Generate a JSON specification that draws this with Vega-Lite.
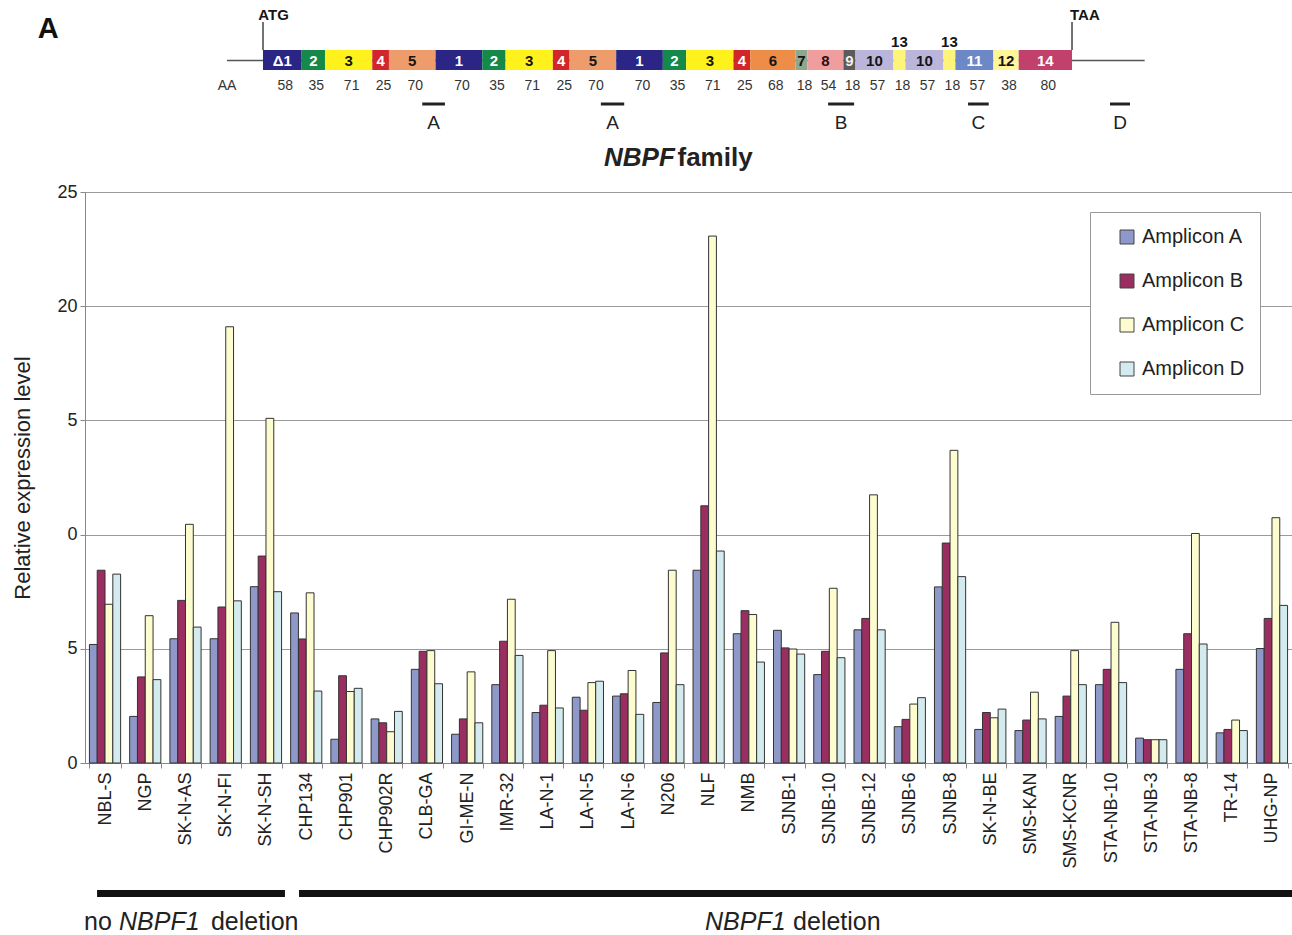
{
  "$schema": "https://vega.github.io/schema/vega-lite/v6.json",
  "padding": {"left": 11, "top": 5, "right": 2, "bottom": 0},
  "background": "white",
  "spacing": 10,
  "config": {"font": "Liberation Sans", "view": {"stroke": null}},
  "resolve": {"scale": {"x": "independent", "y": "independent", "color": "independent"}, "legend": {"color": "independent"}},
  "vconcat": [
    {
      "width": 1207,
      "height": 167,
      "resolve": {"scale": {"color": "independent"}},
      "layer": [
        {
          "data": {"values": [{"x": -54, "x2": 1323}]},
          "mark": {"type": "rule", "color": "#555", "strokeWidth": 1.5},
          "encoding": {
            "x": {"field": "x", "type": "quantitative", "scale": {"domain": [-267.1, 1544.1], "nice": false, "zero": false}, "axis": null},
            "x2": {"field": "x2"},
            "y": {"datum": 55.5, "type": "quantitative", "scale": {"domain": [0, 167], "reverse": true, "nice": false, "zero": false}, "axis": null}
          }
        },
        {
          "data": {"values": [{"x": 0}, {"x": 1214}]},
          "mark": {"type": "rule", "color": "#444", "strokeWidth": 1.5},
          "encoding": {
            "x": {"field": "x", "type": "quantitative", "scale": {"domain": [-267.1, 1544.1], "nice": false, "zero": false}, "axis": null},
            "y": {"datum": 17, "type": "quantitative", "scale": {"domain": [0, 167], "reverse": true, "nice": false, "zero": false}, "axis": null},
            "y2": {"datum": 45}
          }
        },
        {
          "data": {"name": "exons"},
          "mark": {"type": "rect"},
          "encoding": {
            "x": {"field": "s", "type": "quantitative", "scale": {"domain": [-267.1, 1544.1], "nice": false, "zero": false}, "axis": null},
            "x2": {"field": "e"},
            "y": {"datum": 45, "type": "quantitative", "scale": {"domain": [0, 167], "reverse": true, "nice": false, "zero": false}, "axis": null},
            "y2": {"datum": 65},
            "color": {"field": "dom", "type": "nominal", "legend": null,
              "scale": {"domain": ["1","2","3","4","5","6","7","8","9","10","11","12","13","14"],
                        "range": ["#2b2585","#14894a","#fff21c","#d2262b","#ef9c6c","#ee8d48","#8fa88d","#ef9d9d","#5b5b5b","#bbb5db","#6d88c7","#fff59b","#fff47a","#c2416c"]}}
          }
        },
        {
          "data": {"name": "exons"},
          "transform": [{"filter": "datum.dom != '13'"}],
          "mark": {"type": "text", "fontWeight": "bold", "fontSize": 15, "baseline": "middle"},
          "encoding": {
            "x": {"field": "mid", "type": "quantitative", "scale": {"domain": [-267.1, 1544.1], "nice": false, "zero": false}, "axis": null},
            "y": {"datum": 55.5, "type": "quantitative", "scale": {"domain": [0, 167], "reverse": true, "nice": false, "zero": false}, "axis": null},
            "text": {"field": "lab"},
            "color": {"field": "dom", "type": "nominal", "legend": null,
              "scale": {"domain": ["1","2","3","4","5","6","7","8","9","10","11","12","13","14"],
                        "range": ["#ffffff","#ffffff","#151515","#ffffff","#151515","#151515","#151515","#2a1010","#eeeeee","#151515","#ffffff","#151515","#151515","#ffffff"]}}
          }
        },
        {
          "data": {"name": "exons"},
          "transform": [{"filter": "datum.dom == '13'"}],
          "mark": {"type": "text", "fontWeight": "bold", "fontSize": 15, "baseline": "middle", "color": "#151515"},
          "encoding": {
            "x": {"field": "mid", "type": "quantitative", "scale": {"domain": [-267.1, 1544.1], "nice": false, "zero": false}, "axis": null},
            "y": {"datum": 37, "type": "quantitative", "scale": {"domain": [0, 167], "reverse": true, "nice": false, "zero": false}, "axis": null},
            "text": {"field": "lab"}
          }
        },
        {
          "data": {"name": "exons"},
          "mark": {"type": "text", "fontSize": 14, "baseline": "middle", "color": "#333", "dx": 3},
          "encoding": {
            "x": {"field": "mid", "type": "quantitative", "scale": {"domain": [-267.1, 1544.1], "nice": false, "zero": false}, "axis": null},
            "y": {"datum": 81, "type": "quantitative", "scale": {"domain": [0, 167], "reverse": true, "nice": false, "zero": false}, "axis": null},
            "text": {"field": "len"}
          }
        },
        {
          "data": {"name": "amplicons"},
          "mark": {"type": "rect", "color": "#222"},
          "encoding": {
            "x": {"field": "s", "type": "quantitative", "scale": {"domain": [-267.1, 1544.1], "nice": false, "zero": false}, "axis": null},
            "x2": {"field": "e"},
            "y": {"datum": 97.5, "type": "quantitative", "scale": {"domain": [0, 167], "reverse": true, "nice": false, "zero": false}, "axis": null},
            "y2": {"datum": 100.5}
          }
        },
        {
          "data": {"name": "amplicons"},
          "mark": {"type": "text", "fontSize": 19, "baseline": "middle", "color": "#222"},
          "encoding": {
            "x": {"field": "mid", "type": "quantitative", "scale": {"domain": [-267.1, 1544.1], "nice": false, "zero": false}, "axis": null},
            "y": {"datum": 118, "type": "quantitative", "scale": {"domain": [0, 167], "reverse": true, "nice": false, "zero": false}, "axis": null},
            "text": {"field": "lab"}
          }
        },
        {
          "data": {"values": [{"x": -7, "t": "ATG"}, {"x": 1211, "t": "TAA"}]},
          "mark": {"type": "text", "fontSize": 15, "fontWeight": "bold", "align": "left", "baseline": "middle", "color": "#151515"},
          "encoding": {
            "x": {"field": "x", "type": "quantitative", "scale": {"domain": [-267.1, 1544.1], "nice": false, "zero": false}, "axis": null},
            "y": {"datum": 10, "type": "quantitative", "scale": {"domain": [0, 167], "reverse": true, "nice": false, "zero": false}, "axis": null},
            "text": {"field": "t"}
          }
        },
        {
          "data": {"values": [{"x": -338, "t": "A"}]},
          "mark": {"type": "text", "fontSize": 29, "fontWeight": "bold", "align": "left", "baseline": "middle", "color": "#111"},
          "encoding": {
            "x": {"field": "x", "type": "quantitative", "scale": {"domain": [-267.1, 1544.1], "nice": false, "zero": false}, "axis": null},
            "y": {"datum": 24, "type": "quantitative", "scale": {"domain": [0, 167], "reverse": true, "nice": false, "zero": false}, "axis": null},
            "text": {"field": "t"}
          }
        },
        {
          "data": {"values": [{"x": -54, "t": "AA"}]},
          "mark": {"type": "text", "fontSize": 14, "baseline": "middle", "color": "#333"},
          "encoding": {
            "x": {"field": "x", "type": "quantitative", "scale": {"domain": [-267.1, 1544.1], "nice": false, "zero": false}, "axis": null},
            "y": {"datum": 81, "type": "quantitative", "scale": {"domain": [0, 167], "reverse": true, "nice": false, "zero": false}, "axis": null},
            "text": {"field": "t"}
          }
        },
        {
          "data": {"values": [{"x": 618, "t": "NBPF"}]},
          "mark": {"type": "text", "fontSize": 26, "fontWeight": "bold", "fontStyle": "italic", "align": "right", "baseline": "middle", "color": "#222"},
          "encoding": {
            "x": {"field": "x", "type": "quantitative", "scale": {"domain": [-267.1, 1544.1], "nice": false, "zero": false}, "axis": null},
            "y": {"datum": 153, "type": "quantitative", "scale": {"domain": [0, 167], "reverse": true, "nice": false, "zero": false}, "axis": null},
            "text": {"field": "t"}
          }
        },
        {
          "data": {"values": [{"x": 622, "t": "family"}]},
          "mark": {"type": "text", "fontSize": 26, "fontWeight": "bold", "align": "left", "baseline": "middle", "color": "#222"},
          "encoding": {
            "x": {"field": "x", "type": "quantitative", "scale": {"domain": [-267.1, 1544.1], "nice": false, "zero": false}, "axis": null},
            "y": {"datum": 153, "type": "quantitative", "scale": {"domain": [0, 167], "reverse": true, "nice": false, "zero": false}, "axis": null},
            "text": {"field": "t"}
          }
        }
      ]
    },
    {
      "width": 1207,
      "height": 571,
      "view": {"stroke": "#999", "strokeWidth": 1},
      "data": {"name": "expr"},
      "mark": {"type": "bar", "stroke": "#333", "strokeWidth": 1},
      "encoding": {
        "x": {"field": "c", "type": "nominal", "sort": null,
          "scale": {"paddingInner": 0.225, "paddingOuter": 0.11},
          "axis": {"title": null, "labelAngle": -90, "labelFontSize": 18, "labelColor": "#222", "labelPadding": 4,
                   "tickBand": "extent", "tickSize": 5, "tickColor": "#888", "domainColor": "#888"}},
        "xOffset": {"field": "a", "type": "nominal", "sort": null},
        "y": {"field": "v", "type": "quantitative",
          "scale": {"domain": [0, 25], "nice": false},
          "axis": {"title": "Relative expression level", "titleFontSize": 22, "titleFontWeight": "normal", "titleColor": "#222",
                   "titlePadding": 22, "values": [0, 5, 10, 15, 20, 25],
                   "labelExpr": "datum.value == 10 ? '0' : datum.value == 15 ? '5' : datum.label",
                   "labelFontSize": 18, "labelColor": "#222", "labelPadding": 3, "tickSize": 5, "tickColor": "#888",
                   "domainColor": "#888", "grid": true, "gridColor": "#9a9a9a", "gridWidth": 1}},
        "color": {"field": "a", "type": "nominal", "sort": null,
          "scale": {"domain": ["Amplicon A", "Amplicon B", "Amplicon C", "Amplicon D"], "range": ["#8e98c9", "#9b2e61", "#fdfccf", "#d3ebee"]},
          "legend": {"title": null, "orient": "none", "legendX": 1005, "legendY": 20, "fillColor": "white", "strokeColor": "#999",
                     "padding": 15, "rowPadding": 24, "symbolType": "square", "symbolSize": 196, "symbolStrokeColor": "#444",
                     "symbolStrokeWidth": 1, "symbolOffset": 12, "labelFontSize": 20, "labelColor": "#222", "labelOffset": 5}}
      }
    },
    {
      "width": 1207,
      "height": 50,
      "layer": [
        {
          "data": {"values": [{"g": "no NBPF1 deletion", "s": 0.3, "e": 4.97}, {"g": "NBPF1 deletion", "s": 5.32, "e": 30}]},
          "mark": {"type": "rect", "color": "#111"},
          "encoding": {
            "x": {"field": "s", "type": "quantitative", "scale": {"domain": [0, 30], "nice": false, "zero": false}, "axis": null},
            "x2": {"field": "e"},
            "y": {"datum": 11, "type": "quantitative", "scale": {"domain": [0, 50], "reverse": true, "nice": false, "zero": false}, "axis": null},
            "y2": {"datum": 18}
          }
        },
        {
          "data": {"values": [{"x": -0.025, "t": "no"}, {"x": 3.13, "t": "deletion"}, {"x": 17.6, "t": "deletion"}]},
          "mark": {"type": "text", "fontSize": 25, "align": "left", "baseline": "middle", "color": "#222"},
          "encoding": {
            "x": {"field": "x", "type": "quantitative", "scale": {"domain": [0, 30], "nice": false, "zero": false}, "axis": null},
            "y": {"datum": 43, "type": "quantitative", "scale": {"domain": [0, 50], "reverse": true, "nice": false, "zero": false}, "axis": null},
            "text": {"field": "t"}
          }
        },
        {
          "data": {"values": [{"x": 0.845, "t": "NBPF1"}, {"x": 15.41, "t": "NBPF1"}]},
          "mark": {"type": "text", "fontSize": 25, "fontStyle": "italic", "align": "left", "baseline": "middle", "color": "#222"},
          "encoding": {
            "x": {"field": "x", "type": "quantitative", "scale": {"domain": [0, 30], "nice": false, "zero": false}, "axis": null},
            "y": {"datum": 43, "type": "quantitative", "scale": {"domain": [0, 50], "reverse": true, "nice": false, "zero": false}, "axis": null},
            "text": {"field": "t"}
          }
        }
      ]
    }
  ],
  "datasets": {
    "exons": [
      {"lab": "Δ1", "dom": "1", "s": 0, "e": 58, "mid": 29, "len": "58"},
      {"lab": "2", "dom": "2", "s": 58, "e": 93, "mid": 75.5, "len": "35"},
      {"lab": "3", "dom": "3", "s": 93, "e": 164, "mid": 128.5, "len": "71"},
      {"lab": "4", "dom": "4", "s": 164, "e": 189, "mid": 176.5, "len": "25"},
      {"lab": "5", "dom": "5", "s": 189, "e": 259, "mid": 224, "len": "70"},
      {"lab": "1", "dom": "1", "s": 259, "e": 329, "mid": 294, "len": "70"},
      {"lab": "2", "dom": "2", "s": 329, "e": 364, "mid": 346.5, "len": "35"},
      {"lab": "3", "dom": "3", "s": 364, "e": 435, "mid": 399.5, "len": "71"},
      {"lab": "4", "dom": "4", "s": 435, "e": 460, "mid": 447.5, "len": "25"},
      {"lab": "5", "dom": "5", "s": 460, "e": 530, "mid": 495, "len": "70"},
      {"lab": "1", "dom": "1", "s": 530, "e": 600, "mid": 565, "len": "70"},
      {"lab": "2", "dom": "2", "s": 600, "e": 635, "mid": 617.5, "len": "35"},
      {"lab": "3", "dom": "3", "s": 635, "e": 706, "mid": 670.5, "len": "71"},
      {"lab": "4", "dom": "4", "s": 706, "e": 731, "mid": 718.5, "len": "25"},
      {"lab": "6", "dom": "6", "s": 731, "e": 799, "mid": 765, "len": "68"},
      {"lab": "7", "dom": "7", "s": 799, "e": 817, "mid": 808, "len": "18"},
      {"lab": "8", "dom": "8", "s": 817, "e": 871, "mid": 844, "len": "54"},
      {"lab": "9", "dom": "9", "s": 871, "e": 889, "mid": 880, "len": "18"},
      {"lab": "10", "dom": "10", "s": 889, "e": 946, "mid": 917.5, "len": "57"},
      {"lab": "13", "dom": "13", "s": 946, "e": 964, "mid": 955, "len": "18"},
      {"lab": "10", "dom": "10", "s": 964, "e": 1021, "mid": 992.5, "len": "57"},
      {"lab": "13", "dom": "13", "s": 1021, "e": 1039, "mid": 1030, "len": "18"},
      {"lab": "11", "dom": "11", "s": 1039, "e": 1096, "mid": 1067.5, "len": "57"},
      {"lab": "12", "dom": "12", "s": 1096, "e": 1134, "mid": 1115, "len": "38"},
      {"lab": "14", "dom": "14", "s": 1134, "e": 1214, "mid": 1174, "len": "80"}
    ],
    "amplicons": [
      {"lab": "A", "s": 239, "e": 273, "mid": 256},
      {"lab": "A", "s": 507, "e": 542, "mid": 524.5},
      {"lab": "B", "s": 848, "e": 887, "mid": 867.5},
      {"lab": "C", "s": 1058, "e": 1089, "mid": 1073.5},
      {"lab": "D", "s": 1271, "e": 1301, "mid": 1286}
    ],
    "expr": [
      {"c": "NBL-S", "a": "Amplicon A", "v": 5.19}, {"c": "NBL-S", "a": "Amplicon B", "v": 8.44}, {"c": "NBL-S", "a": "Amplicon C", "v": 6.95}, {"c": "NBL-S", "a": "Amplicon D", "v": 8.27},
      {"c": "NGP", "a": "Amplicon A", "v": 2.04}, {"c": "NGP", "a": "Amplicon B", "v": 3.77}, {"c": "NGP", "a": "Amplicon C", "v": 6.45}, {"c": "NGP", "a": "Amplicon D", "v": 3.65},
      {"c": "SK-N-AS", "a": "Amplicon A", "v": 5.44}, {"c": "SK-N-AS", "a": "Amplicon B", "v": 7.12}, {"c": "SK-N-AS", "a": "Amplicon C", "v": 10.45}, {"c": "SK-N-AS", "a": "Amplicon D", "v": 5.95},
      {"c": "SK-N-FI", "a": "Amplicon A", "v": 5.44}, {"c": "SK-N-FI", "a": "Amplicon B", "v": 6.83}, {"c": "SK-N-FI", "a": "Amplicon C", "v": 19.1}, {"c": "SK-N-FI", "a": "Amplicon D", "v": 7.1},
      {"c": "SK-N-SH", "a": "Amplicon A", "v": 7.72}, {"c": "SK-N-SH", "a": "Amplicon B", "v": 9.06}, {"c": "SK-N-SH", "a": "Amplicon C", "v": 15.09}, {"c": "SK-N-SH", "a": "Amplicon D", "v": 7.5},
      {"c": "CHP134", "a": "Amplicon A", "v": 6.57}, {"c": "CHP134", "a": "Amplicon B", "v": 5.43}, {"c": "CHP134", "a": "Amplicon C", "v": 7.45}, {"c": "CHP134", "a": "Amplicon D", "v": 3.15},
      {"c": "CHP901", "a": "Amplicon A", "v": 1.04}, {"c": "CHP901", "a": "Amplicon B", "v": 3.82}, {"c": "CHP901", "a": "Amplicon C", "v": 3.13}, {"c": "CHP901", "a": "Amplicon D", "v": 3.27},
      {"c": "CHP902R", "a": "Amplicon A", "v": 1.93}, {"c": "CHP902R", "a": "Amplicon B", "v": 1.76}, {"c": "CHP902R", "a": "Amplicon C", "v": 1.37}, {"c": "CHP902R", "a": "Amplicon D", "v": 2.26},
      {"c": "CLB-GA", "a": "Amplicon A", "v": 4.1}, {"c": "CLB-GA", "a": "Amplicon B", "v": 4.89}, {"c": "CLB-GA", "a": "Amplicon C", "v": 4.92}, {"c": "CLB-GA", "a": "Amplicon D", "v": 3.47},
      {"c": "GI-ME-N", "a": "Amplicon A", "v": 1.26}, {"c": "GI-ME-N", "a": "Amplicon B", "v": 1.93}, {"c": "GI-ME-N", "a": "Amplicon C", "v": 3.99}, {"c": "GI-ME-N", "a": "Amplicon D", "v": 1.76},
      {"c": "IMR-32", "a": "Amplicon A", "v": 3.43}, {"c": "IMR-32", "a": "Amplicon B", "v": 5.33}, {"c": "IMR-32", "a": "Amplicon C", "v": 7.17}, {"c": "IMR-32", "a": "Amplicon D", "v": 4.71},
      {"c": "LA-N-1", "a": "Amplicon A", "v": 2.21}, {"c": "LA-N-1", "a": "Amplicon B", "v": 2.53}, {"c": "LA-N-1", "a": "Amplicon C", "v": 4.92}, {"c": "LA-N-1", "a": "Amplicon D", "v": 2.41},
      {"c": "LA-N-5", "a": "Amplicon A", "v": 2.88}, {"c": "LA-N-5", "a": "Amplicon B", "v": 2.31}, {"c": "LA-N-5", "a": "Amplicon C", "v": 3.52}, {"c": "LA-N-5", "a": "Amplicon D", "v": 3.58},
      {"c": "LA-N-6", "a": "Amplicon A", "v": 2.93}, {"c": "LA-N-6", "a": "Amplicon B", "v": 3.03}, {"c": "LA-N-6", "a": "Amplicon C", "v": 4.05}, {"c": "LA-N-6", "a": "Amplicon D", "v": 2.13},
      {"c": "N206", "a": "Amplicon A", "v": 2.65}, {"c": "N206", "a": "Amplicon B", "v": 4.82}, {"c": "N206", "a": "Amplicon C", "v": 8.44}, {"c": "N206", "a": "Amplicon D", "v": 3.43},
      {"c": "NLF", "a": "Amplicon A", "v": 8.44}, {"c": "NLF", "a": "Amplicon B", "v": 11.26}, {"c": "NLF", "a": "Amplicon C", "v": 23.07}, {"c": "NLF", "a": "Amplicon D", "v": 9.28},
      {"c": "NMB", "a": "Amplicon A", "v": 5.66}, {"c": "NMB", "a": "Amplicon B", "v": 6.67}, {"c": "NMB", "a": "Amplicon C", "v": 6.5}, {"c": "NMB", "a": "Amplicon D", "v": 4.42},
      {"c": "SJNB-1", "a": "Amplicon A", "v": 5.81}, {"c": "SJNB-1", "a": "Amplicon B", "v": 5.04}, {"c": "SJNB-1", "a": "Amplicon C", "v": 4.99}, {"c": "SJNB-1", "a": "Amplicon D", "v": 4.77},
      {"c": "SJNB-10", "a": "Amplicon A", "v": 3.87}, {"c": "SJNB-10", "a": "Amplicon B", "v": 4.89}, {"c": "SJNB-10", "a": "Amplicon C", "v": 7.65}, {"c": "SJNB-10", "a": "Amplicon D", "v": 4.61},
      {"c": "SJNB-12", "a": "Amplicon A", "v": 5.83}, {"c": "SJNB-12", "a": "Amplicon B", "v": 6.33}, {"c": "SJNB-12", "a": "Amplicon C", "v": 11.74}, {"c": "SJNB-12", "a": "Amplicon D", "v": 5.83},
      {"c": "SJNB-6", "a": "Amplicon A", "v": 1.59}, {"c": "SJNB-6", "a": "Amplicon B", "v": 1.91}, {"c": "SJNB-6", "a": "Amplicon C", "v": 2.58}, {"c": "SJNB-6", "a": "Amplicon D", "v": 2.86},
      {"c": "SJNB-8", "a": "Amplicon A", "v": 7.71}, {"c": "SJNB-8", "a": "Amplicon B", "v": 9.63}, {"c": "SJNB-8", "a": "Amplicon C", "v": 13.69}, {"c": "SJNB-8", "a": "Amplicon D", "v": 8.16},
      {"c": "SK-N-BE", "a": "Amplicon A", "v": 1.47}, {"c": "SK-N-BE", "a": "Amplicon B", "v": 2.21}, {"c": "SK-N-BE", "a": "Amplicon C", "v": 1.98}, {"c": "SK-N-BE", "a": "Amplicon D", "v": 2.36},
      {"c": "SMS-KAN", "a": "Amplicon A", "v": 1.42}, {"c": "SMS-KAN", "a": "Amplicon B", "v": 1.88}, {"c": "SMS-KAN", "a": "Amplicon C", "v": 3.1}, {"c": "SMS-KAN", "a": "Amplicon D", "v": 1.93},
      {"c": "SMS-KCNR", "a": "Amplicon A", "v": 2.04}, {"c": "SMS-KCNR", "a": "Amplicon B", "v": 2.93}, {"c": "SMS-KCNR", "a": "Amplicon C", "v": 4.92}, {"c": "SMS-KCNR", "a": "Amplicon D", "v": 3.43},
      {"c": "STA-NB-10", "a": "Amplicon A", "v": 3.43}, {"c": "STA-NB-10", "a": "Amplicon B", "v": 4.1}, {"c": "STA-NB-10", "a": "Amplicon C", "v": 6.16}, {"c": "STA-NB-10", "a": "Amplicon D", "v": 3.52},
      {"c": "STA-NB-3", "a": "Amplicon A", "v": 1.09}, {"c": "STA-NB-3", "a": "Amplicon B", "v": 1.02}, {"c": "STA-NB-3", "a": "Amplicon C", "v": 1.02}, {"c": "STA-NB-3", "a": "Amplicon D", "v": 1.02},
      {"c": "STA-NB-8", "a": "Amplicon A", "v": 4.1}, {"c": "STA-NB-8", "a": "Amplicon B", "v": 5.66}, {"c": "STA-NB-8", "a": "Amplicon C", "v": 10.05}, {"c": "STA-NB-8", "a": "Amplicon D", "v": 5.21},
      {"c": "TR-14", "a": "Amplicon A", "v": 1.32}, {"c": "TR-14", "a": "Amplicon B", "v": 1.47}, {"c": "TR-14", "a": "Amplicon C", "v": 1.88}, {"c": "TR-14", "a": "Amplicon D", "v": 1.42},
      {"c": "UHG-NP", "a": "Amplicon A", "v": 5.01}, {"c": "UHG-NP", "a": "Amplicon B", "v": 6.33}, {"c": "UHG-NP", "a": "Amplicon C", "v": 10.74}, {"c": "UHG-NP", "a": "Amplicon D", "v": 6.9}
    ]
  }
}
